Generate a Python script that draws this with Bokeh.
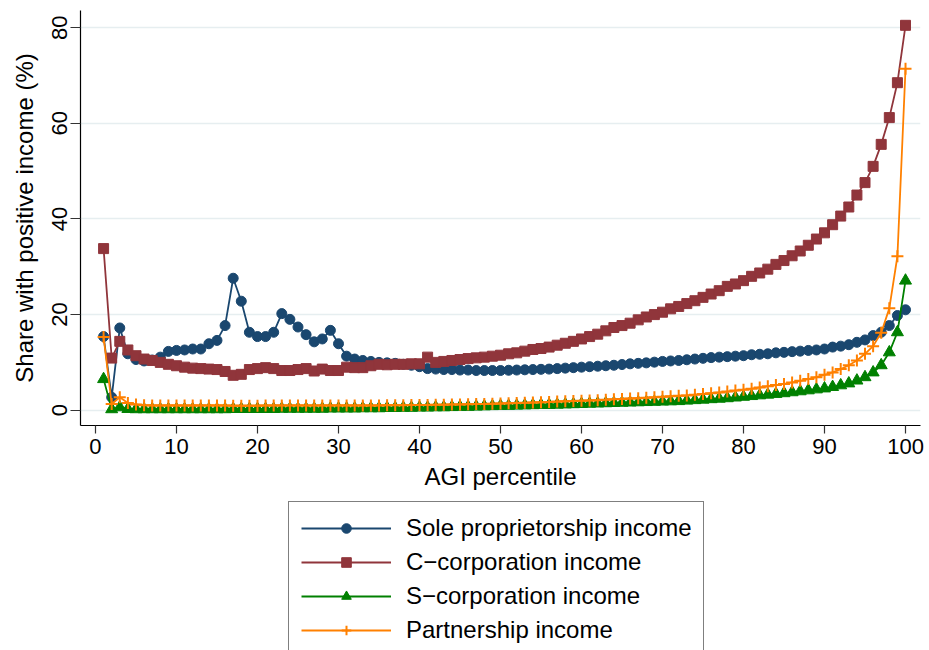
from bokeh.plotting import figure
from bokeh.models import Range1d, Legend, LegendItem, FixedTicker
from bokeh.layouts import column
from bokeh.embed import file_html
from bokeh.resources import INLINE

percentile = list(range(1, 101))

sole_prop = [
    15.4, 2.7, 17.2, 11.8, 10.6, 10.3, 10.5, 11.1, 12.3, 12.5,
    12.6, 12.8, 12.8, 13.9, 14.6, 17.7, 27.6, 22.8, 16.3, 15.4,
    15.4, 16.3, 20.2, 19.0, 17.4, 15.8, 14.3, 14.9, 16.7, 13.9,
    11.3, 10.7, 10.4, 10.2, 10.0, 9.9, 9.8, 9.6, 9.4, 9.1,
    8.7, 8.6, 8.5, 8.5, 8.4, 8.4, 8.3, 8.3, 8.3, 8.3,
    8.35, 8.4, 8.45, 8.5, 8.55, 8.6, 8.7, 8.8, 8.9, 9.0,
    9.1, 9.2, 9.3, 9.4, 9.55, 9.7, 9.8, 9.9, 10.05, 10.2,
    10.3, 10.4, 10.55, 10.7, 10.85, 11.0, 11.1, 11.2, 11.3, 11.4,
    11.6, 11.7, 11.8, 12.0, 12.1, 12.25, 12.35, 12.5, 12.6, 12.8,
    13.2, 13.4, 13.7, 14.2, 14.7, 15.6, 16.3, 17.7, 19.8, 21.0,
]

c_corp = [
    33.8, 10.9, 14.4, 12.6, 11.4, 10.7, 10.4, 10.0, 9.6, 9.3,
    9.0, 8.8, 8.7, 8.6, 8.5, 8.1, 7.3, 7.5, 8.5, 8.7,
    8.9, 8.7, 8.3, 8.3, 8.5, 8.7, 8.2, 8.6, 8.3, 8.3,
    9.0, 8.9, 8.9, 9.3, 9.6, 9.5, 9.6, 9.6, 9.7, 9.7,
    11.1, 10.0, 10.2, 10.4, 10.6, 10.8, 10.95, 11.1, 11.3, 11.5,
    11.8, 12.0, 12.35, 12.7, 12.9, 13.2, 13.6, 14.0, 14.4, 14.9,
    15.4, 15.9, 16.6, 17.3, 17.7, 18.2, 18.9, 19.5, 20.0, 20.5,
    21.2, 21.7, 22.3, 22.9, 23.6, 24.3, 25.0, 25.9, 26.4, 27.1,
    28.0, 28.7, 29.5, 30.5, 31.3, 32.3, 33.3, 34.5, 35.8, 37.1,
    38.8, 40.6, 42.5, 45.0, 47.6, 51.0, 55.6, 61.2, 68.5, 80.5,
]

s_corp = [
    6.5, 0.2, 0.6, 0.25, 0.2, 0.2, 0.2, 0.2, 0.2, 0.2,
    0.2, 0.2, 0.2, 0.2, 0.2, 0.2, 0.25, 0.25, 0.25, 0.25,
    0.25, 0.25, 0.3, 0.3, 0.3, 0.3, 0.3, 0.3, 0.35, 0.35,
    0.35, 0.35, 0.4, 0.4, 0.4, 0.45, 0.45, 0.5, 0.5, 0.55,
    0.55, 0.6, 0.6, 0.65, 0.7, 0.7, 0.75, 0.8, 0.85, 0.9,
    0.9, 0.95, 1.0, 1.05, 1.1, 1.1, 1.15, 1.2, 1.25, 1.3,
    1.35, 1.4, 1.45, 1.5, 1.55, 1.6, 1.65, 1.7, 1.75, 1.8,
    1.85, 1.9, 2.0, 2.1, 2.2, 2.3, 2.4, 2.5, 2.65, 2.8,
    2.95, 3.1, 3.25, 3.4, 3.55, 3.75, 3.95, 4.15, 4.35, 4.55,
    4.85, 5.2, 5.6, 6.2, 6.9, 7.9, 9.4, 12.1, 16.3, 27.1,
]

partnership = [
    15.3, 1.3, 2.7, 1.5, 1.2, 1.05, 1.0, 1.0, 1.0, 1.0,
    1.0, 1.0, 1.0, 1.0, 1.0, 1.0, 0.95, 0.95, 0.95, 0.95,
    1.0, 1.0, 1.0, 1.0, 1.0, 1.0, 1.0, 1.0, 1.0, 1.0,
    1.0, 1.0, 1.0, 1.0, 1.0, 1.05, 1.05, 1.05, 1.1, 1.1,
    1.1, 1.15, 1.15, 1.2, 1.2, 1.25, 1.3, 1.3, 1.35, 1.4,
    1.45, 1.5, 1.55, 1.6, 1.65, 1.7, 1.8, 1.85, 1.9, 2.0,
    2.05, 2.1, 2.2, 2.3, 2.35, 2.45, 2.5, 2.6, 2.7, 2.8,
    2.9, 3.0, 3.1, 3.25, 3.4, 3.55, 3.7, 3.9, 4.1, 4.3,
    4.5, 4.75, 5.0, 5.25, 5.5, 5.8, 6.15, 6.5, 6.9, 7.4,
    7.9, 8.6, 9.4, 10.4, 11.8, 13.4, 16.2, 21.3, 32.2, 71.4,
]

series_labels = [
    "Sole proprietorship income",
    "C\u2212corporation income",
    "S\u2212corporation income",
    "Partnership income",
]
x_ticks = list(range(0, 101, 10))
y_ticks = [0, 20, 40, 60, 80]

FONT = "Liberation Sans"
W = 928

p = figure(
    width=W, height=500,
    x_range=Range1d(-1.85, 101.85), y_range=Range1d(-3.2, 83.6),
    output_backend="svg", toolbar_location=None,
    min_border_left=80, min_border_right=8, min_border_top=10, min_border_bottom=75,
)
p.outline_line_color = None
p.background_fill_color = "white"
p.border_fill_color = "white"

p.xgrid.visible = False
p.ygrid.grid_line_color = "#e6eef0"
p.ygrid.grid_line_width = 1.5

p.xaxis.ticker = FixedTicker(ticks=x_ticks)
p.yaxis.ticker = FixedTicker(ticks=y_ticks)
for ax in (p.xaxis[0], p.yaxis[0]):
    ax.minor_tick_line_color = None
    ax.axis_line_color = "black"
    ax.axis_line_width = 1.2
    ax.major_tick_line_color = "#333333"
    ax.major_tick_line_width = 1.2
    ax.major_tick_in = 0
    ax.major_label_text_font = FONT
    ax.major_label_text_font_size = "22px"
    ax.major_label_text_color = "black"
    ax.axis_label_text_font = FONT
    ax.axis_label_text_font_size = "24px"
    ax.axis_label_text_font_style = "normal"
    ax.axis_label_text_color = "black"

p.xaxis.major_tick_out = 8
p.xaxis.major_label_standoff = 5
p.xaxis.axis_label = "AGI percentile"
p.xaxis.axis_label_standoff = 6

p.yaxis.major_tick_out = 10
p.yaxis.major_label_orientation = "vertical"
p.yaxis.major_label_standoff = 3
p.yaxis.axis_label = "Share with positive income (%)"
p.yaxis.axis_label_standoff = 12

colors = ["#1a476f", "#90353b", "#008000", "#ff8000"]
markers = ["circle", "square", "triangle", "cross"]
sizes = [10, 10, 12, 12]
data = [sole_prop, c_corp, s_corp, partnership]

# Legend lives in a second, axis-less figure directly below the chart.
# Its ranges lie far away from the data, so its own copies of the series stay hidden.
pl = figure(
    width=W, height=150, x_range=Range1d(1000, 1001), y_range=Range1d(1000, 1001),
    output_backend="svg", toolbar_location=None,
    min_border_left=0, min_border_right=0, min_border_top=0, min_border_bottom=0,
)
pl.axis.visible = False
pl.grid.visible = False
pl.outline_line_color = None
pl.background_fill_color = "white"
pl.border_fill_color = "white"

items = []
for vals, col, mk, sz, lab in zip(data, colors, markers, sizes, series_labels):
    p.line(percentile, vals, line_color=col, line_width=1.8)
    if mk == "cross":
        kw = dict(line_color=col, line_width=2)
    else:
        kw = dict(fill_color=col, line_color=col)
    p.scatter(percentile, vals, marker=mk, size=sz, **kw)
    lr = pl.line(percentile, vals, line_color=col, line_width=1.8)
    sr = pl.scatter(percentile, vals, marker=mk, size=sz, **kw)
    items.append(LegendItem(label=lab, renderers=[lr, sr]))

legend = Legend(
    items=items, location=(208, -7), orientation="vertical",
    border_line_color="black", border_line_width=1, background_fill_color="white",
    padding=12, spacing=6, glyph_width=90, glyph_height=24, label_height=24,
    label_standoff=15, label_text_font=FONT, label_text_font_size="24px",
    label_text_color="black", margin=0,
)
pl.add_layout(legend, "center")

layout = column(p, pl, spacing=0)
open("out.html", "w").write(file_html(layout, INLINE))
